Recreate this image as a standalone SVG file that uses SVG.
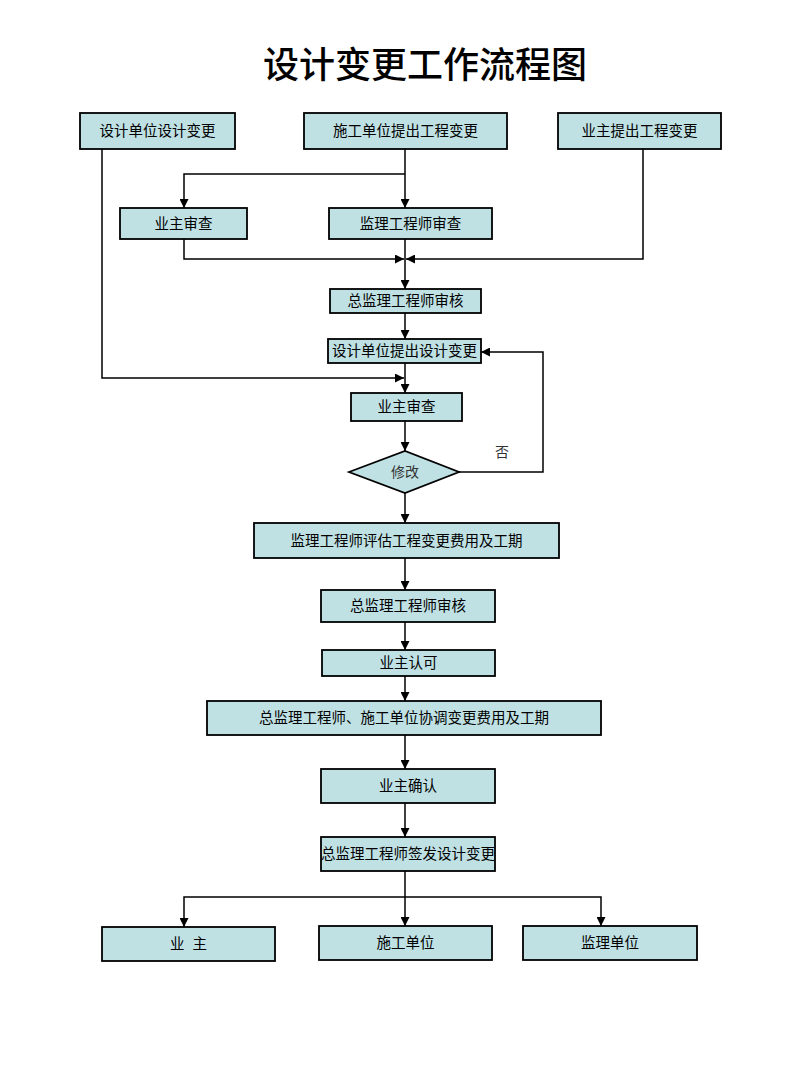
<svg xmlns="http://www.w3.org/2000/svg" width="810" height="1080" viewBox="0 0 810 1080">
<style>
.box{fill:#bfe1e4;stroke:#000;stroke-width:1.8}
.t{font-family:"Liberation Sans","Noto Sans CJK SC",sans-serif;font-size:14.5px;fill:#000;text-anchor:middle;dominant-baseline:central}
.ts{font-family:"Liberation Serif","Noto Sans CJK SC",serif;font-size:14px;fill:#333;text-anchor:middle;dominant-baseline:central}
.c{fill:none;stroke:#000;stroke-width:1.5}
.title{font-family:"Noto Sans CJK SC",sans-serif;font-size:36px;font-weight:500;fill:#000;text-anchor:middle}
</style>
<defs>
<marker id="ah" viewBox="0 0 10 10" refX="10" refY="5" markerWidth="9" markerHeight="9" markerUnits="userSpaceOnUse" orient="auto"><path d="M0,0 L10,5 L0,10 z" fill="#000"/></marker>
</defs>
<rect width="810" height="1080" fill="#fff"/>
<text class="title" x="425" y="78">设计变更工作流程图</text>
<g id="connectors">
<path class="c" d="M405 149 V208" marker-end="url(#ah)"/>
<path class="c" d="M405 174 H184 V208" marker-end="url(#ah)"/>
<path class="c" d="M184 239 V259 H404" marker-end="url(#ah)"/>
<path class="c" d="M643 149 V259 H406" marker-end="url(#ah)"/>
<path class="c" d="M405 239 V289" marker-end="url(#ah)"/>
<path class="c" d="M405 313 V339" marker-end="url(#ah)"/>
<path class="c" d="M405 363 V393" marker-end="url(#ah)"/>
<path class="c" d="M102 149 V378 H404" marker-end="url(#ah)"/>
<path class="c" d="M405 421 V451" marker-end="url(#ah)"/>
<path class="c" d="M459 472 H543 V352 H481" marker-end="url(#ah)"/>
<path class="c" d="M405 493 V523" marker-end="url(#ah)"/>
<path class="c" d="M405 558 V590" marker-end="url(#ah)"/>
<path class="c" d="M405 622 V650" marker-end="url(#ah)"/>
<path class="c" d="M405 676 V701" marker-end="url(#ah)"/>
<path class="c" d="M405 735 V769" marker-end="url(#ah)"/>
<path class="c" d="M405 803 V837" marker-end="url(#ah)"/>
<path class="c" d="M405 871 V926" marker-end="url(#ah)"/>
<path class="c" d="M405 897 H184 V927" marker-end="url(#ah)"/>
<path class="c" d="M405 897 H601 V926" marker-end="url(#ah)"/>
<text class="ts" x="502" y="452">否</text>
</g>
<g id="n1"><rect class="box" x="80" y="113" width="155" height="36"/><text class="t" x="157.5" y="131">设计单位设计变更</text></g>
<g id="n2"><rect class="box" x="304" y="113" width="203" height="36"/><text class="t" x="405.5" y="131">施工单位提出工程变更</text></g>
<g id="n3"><rect class="box" x="558" y="113" width="163" height="36"/><text class="t" x="639.5" y="131">业主提出工程变更</text></g>
<g id="n4"><rect class="box" x="120" y="208" width="127" height="31"/><text class="t" x="183.5" y="223.5">业主审查</text></g>
<g id="n5"><rect class="box" x="329" y="208" width="163" height="31"/><text class="t" x="410.5" y="223.5">监理工程师审查</text></g>
<g id="n6"><rect class="box" x="330" y="289" width="151" height="24"/><text class="t" x="405.5" y="301">总监理工程师审核</text></g>
<g id="n7"><rect class="box" x="328" y="339" width="153" height="24"/><text class="t" x="404.5" y="351">设计单位提出设计变更</text></g>
<g id="n8"><rect class="box" x="351" y="393" width="111" height="28"/><text class="t" x="406.5" y="407">业主审查</text></g>
<g id="n9"><polygon class="box" points="349,472 405,451 459,472 405,493"/><text class="ts" x="405" y="472">修改</text></g>
<g id="n10"><rect class="box" x="254" y="523" width="305" height="35"/><text class="t" x="406.5" y="540.5">监理工程师评估工程变更费用及工期</text></g>
<g id="n11"><rect class="box" x="321" y="590" width="174" height="32"/><text class="t" x="408" y="606">总监理工程师审核</text></g>
<g id="n12"><rect class="box" x="322" y="650" width="173" height="26"/><text class="t" x="408.5" y="663">业主认可</text></g>
<g id="n13"><rect class="box" x="207" y="701" width="394" height="34"/><text class="t" x="404" y="718">总监理工程师、施工单位协调变更费用及工期</text></g>
<g id="n14"><rect class="box" x="321" y="769" width="174" height="34"/><text class="t" x="408" y="786">业主确认</text></g>
<g id="n15"><rect class="box" x="321" y="837" width="174" height="34"/><text class="t" x="408" y="854">总监理工程师签发设计变更</text></g>
<g id="n16"><rect class="box" x="102" y="927" width="173" height="34"/><text class="t" x="188.5" y="944" xml:space="preserve">业  主</text></g>
<g id="n17"><rect class="box" x="319" y="926" width="173" height="34"/><text class="t" x="405.5" y="943">施工单位</text></g>
<g id="n18"><rect class="box" x="523" y="926" width="174" height="34"/><text class="t" x="610" y="943">监理单位</text></g>
</svg>
